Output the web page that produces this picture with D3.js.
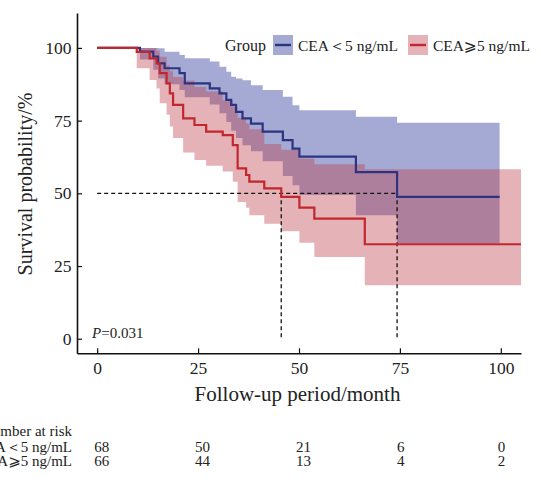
<!DOCTYPE html>
<html>
<head>
<meta charset="utf-8">
<script src="https://cdn.jsdelivr.net/npm/d3@7"></script>
<style>
  body { margin: 0; background: #fff; }
  text { font-family: "Liberation Serif", "DejaVu Serif", "DejaVu Sans", serif; fill: #222; }
</style>
</head>
<body>
<script>
// group labels
var groups = ["CEA\uFF1C5 ng/mL", "CEA\u2A7E5 ng/mL"]

// CEA<5 : time (month), survival %, 95% CI
var lowTime  = [0, 10.6, 13.9, 15.1, 16.7, 20.4, 21.7, 27.9, 30.3, 32.0, 33.2, 34.4, 36.0, 38.1, 41.0, 46.0, 48.4, 50.1, 64.1, 74.3, 99.7]
var lowSurv  = [100, 98.7, 97.0, 94.7, 93.0, 91.3, 87.8, 86.1, 84.4, 82.1, 80.4, 78.0, 75.8, 74.0, 71.2, 68.3, 65.4, 62.6, 57.3, 48.8, 48.8]
var lowUpper = [100, 100, 100, 99.9, 98.7, 97.6, 96.4, 95.3, 93.5, 91.8, 90.1, 89.5, 88.9, 87.2, 85.5, 83.2, 80.3, 78.6, 76.3, 74.3, 74.3]
var lowLower = [100, 96, 92.5, 89.5, 87.5, 85.5, 83, 80.5, 77.5, 74.5, 71.5, 69, 66.5, 64.5, 61, 56, 52.8, 49.4, 42.5, 32.8, 32.8]

// CEA>=5
var highTime  = [0, 9.8, 13.0, 14.7, 15.5, 17.2, 18.0, 18.8, 21.3, 24.1, 27.0, 31.1, 33.6, 34.8, 36.9, 37.7, 41.4, 45.6, 50.1, 53.8, 66.3, 105]
var highSurv  = [100, 98.6, 96.4, 94.7, 91.3, 87.8, 84.4, 80.4, 75.8, 73.5, 71.2, 70.0, 66.6, 58.6, 56.3, 54.0, 51.7, 48.8, 45.1, 41.3, 32.5, 32.5]
var highUpper = [100, 100, 100, 99, 97, 94, 92, 90, 88.8, 86.6, 85, 82, 79.8, 76, 74, 72, 67, 65, 62, 60, 58.3, 58.3]
var highLower = [100, 93, 89, 86, 81, 77, 73, 69, 64, 61.5, 59.5, 57.5, 54, 47, 45, 42.5, 39.5, 37, 33, 28.1, 18.4, 18.4]

// median survival times
var medians = [45.6, 74.3]

// number at risk
var riskTimes = [0, 25, 50, 75, 100]
var riskLow   = [68, 50, 21, 6, 0]
var riskHigh  = [66, 44, 13, 4, 2]

var xTicks = [0, 25, 50, 75, 100]
var yTicks = [0, 25, 50, 75, 100]

var lineColor = ["#2c3480", "#c1272d"]
var bandColor = ["rgb(30,43,148)", "rgb(188,62,75)"]

var svg = d3.select("body").append("svg")
    .attr("width", 541)
    .attr("height", 487)

var x = d3.scaleLinear().domain([-5, 105]).range([77, 521])
var y = d3.scaleLinear().domain([-5, 112]).range([353.3, 13])

function rows(t, s, u, l) {
  return t.map((d, i) => ({t: d, s: s[i], u: u[i], l: l[i]}))
}
var series = [rows(lowTime, lowSurv, lowUpper, lowLower), rows(highTime, highSurv, highUpper, highLower)]

var area = d3.area().curve(d3.curveStepAfter)
    .x(d => x(d.t)).y0(d => y(d.l)).y1(d => y(d.u))
var line = d3.line().curve(d3.curveStepAfter)
    .x(d => x(d.t)).y(d => y(d.s))

// confidence bands (blue first, red over it)
svg.append("g").selectAll("path")
  .data(series).enter().append("path")
    .attr("d", area)
    .attr("fill", (d, i) => bandColor[i])
    .attr("fill-opacity", 0.4)

// median guide lines
var dash = svg.append("g")
    .attr("stroke", "#111")
    .attr("stroke-width", 1.3)
    .attr("stroke-dasharray", "4,3")
    .attr("fill", "none")
dash.append("line")
    .attr("x1", x(0)).attr("x2", x(d3.max(medians)))
    .attr("y1", y(50)).attr("y2", y(50))
dash.selectAll(".v").data(medians).enter().append("line")
    .attr("x1", d => x(d)).attr("x2", d => x(d))
    .attr("y1", y(50)).attr("y2", y(0))

// survival curves
svg.append("g").selectAll("path")
  .data(series).enter().append("path")
    .attr("d", line)
    .attr("fill", "none")
    .attr("stroke", (d, i) => lineColor[i])
    .attr("stroke-width", 2.2)

// axes
var xAxis = svg.append("g")
    .attr("transform", "translate(0," + y(-5) + ")")
    .call(d3.axisBottom(x).tickValues(xTicks).tickSizeInner(-5).tickSizeOuter(0).tickPadding(8))
var yAxis = svg.append("g")
    .attr("transform", "translate(" + x(-5) + ",0)")
    .call(d3.axisLeft(y).tickValues(yTicks).tickSizeInner(-5).tickSizeOuter(0).tickPadding(5.5))
;[xAxis, yAxis].forEach(g => {
  g.select(".domain").attr("stroke", "#111").attr("stroke-width", 1.6)
  g.selectAll(".tick line").attr("stroke", "#111").attr("stroke-width", 1.2)
  g.selectAll(".tick text")
    .attr("fill", "#222")
    .style("font-family", "'Liberation Serif', serif")
    .style("font-size", "17.5px")
})

svg.append("text")
    .attr("x", 297.5).attr("y", 401)
    .attr("text-anchor", "middle")
    .style("font-size", "21px")
    .text("Follow-up period/month")

svg.append("text")
    .attr("transform", "translate(31.5,184) rotate(-90)")
    .attr("text-anchor", "middle")
    .style("font-size", "20px")
    .text("Survival probability/%")

// p value
var p = svg.append("text").attr("x", 92).attr("y", 338).style("font-size", "15px")
p.append("tspan").style("font-style", "italic").text("P")
p.append("tspan").text("=0.031")

// legend
var leg = svg.append("g")
leg.append("text").attr("x", 225).attr("y", 51).style("font-size", "16px").text("Group")
var keyX = [273, 408]
groups.forEach((g, i) => {
  leg.append("rect")
      .attr("x", keyX[i]).attr("y", 35).attr("width", 20).attr("height", 20)
      .attr("fill", bandColor[i]).attr("fill-opacity", 0.4)
  leg.append("line")
      .attr("x1", keyX[i] + 2).attr("x2", keyX[i] + 18)
      .attr("y1", 45).attr("y2", 45)
      .attr("stroke", lineColor[i]).attr("stroke-width", 2.4)
  leg.append("text")
      .attr("x", keyX[i] + 25).attr("y", 51)
      .style("font-size", "15.5px")
      .text(g)
})

// risk table
var risk = svg.append("g").style("font-size", "15px")
risk.append("text").attr("x", -18).attr("y", 436).text("Number at risk")
var riskRows = [riskLow, riskHigh]
var rowY = [451.5, 466]
riskRows.forEach((r, i) => {
  risk.append("text")
      .attr("x", 72).attr("y", rowY[i])
      .attr("text-anchor", "end")
      .text(groups[i])
  risk.selectAll(".n" + i).data(r).enter().append("text")
      .attr("x", (d, j) => x(riskTimes[j]) - 3)
      .attr("y", rowY[i])
      .text(d => d)
})
</script>
</body>
</html>
